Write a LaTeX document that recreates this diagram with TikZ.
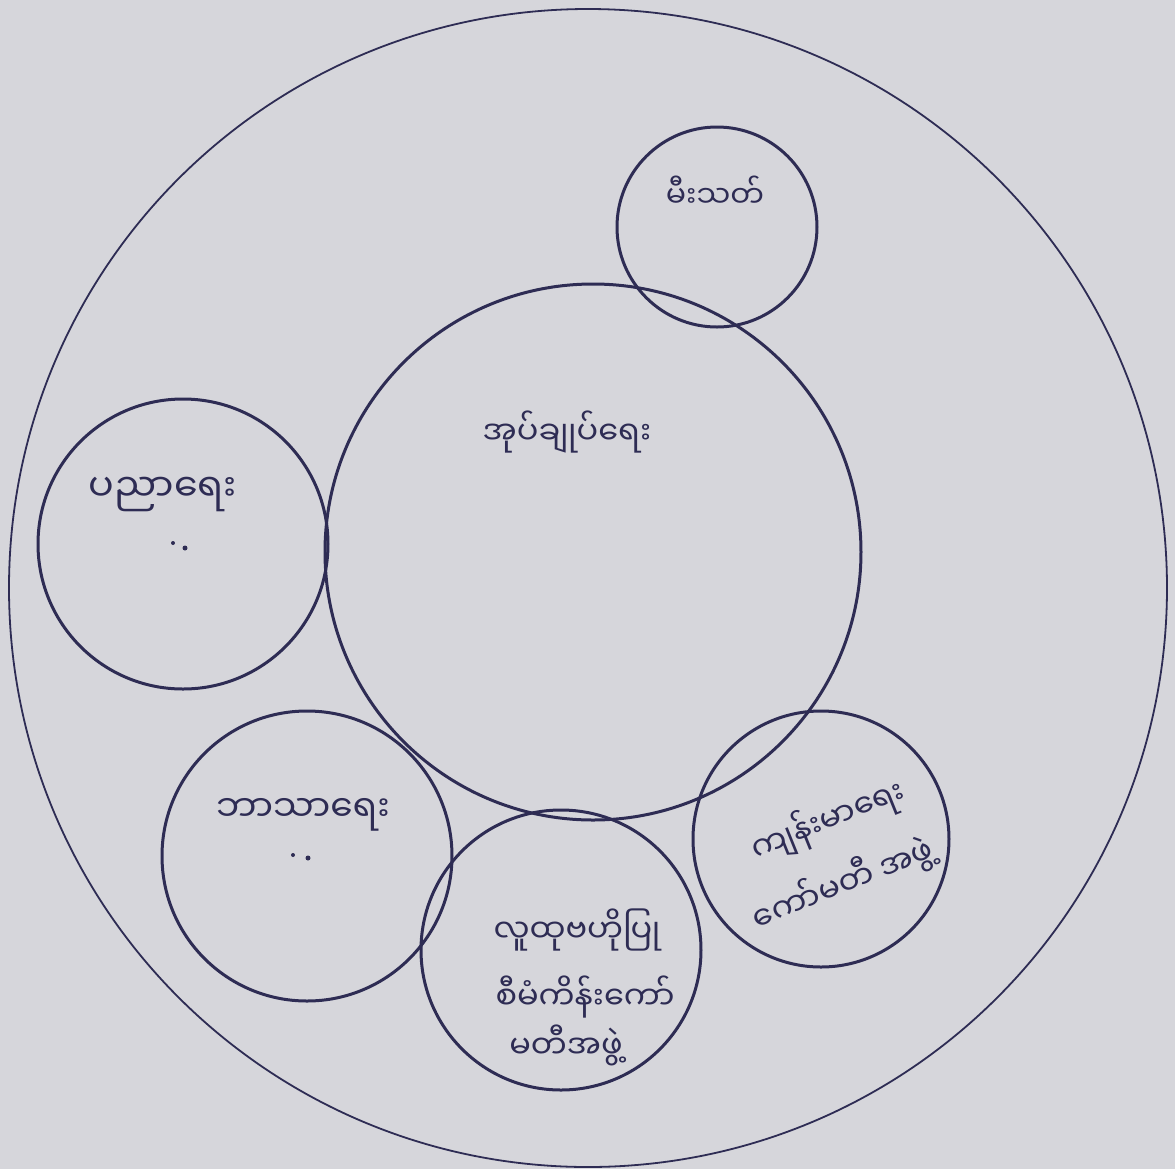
\documentclass[tikz,border=0pt]{standalone}
\usepackage{fontspec}
\newfontfamily\mmfont[Script=Myanmar]{Noto Sans Myanmar UI}
\definecolor{ink}{RGB}{46,44,84}
\definecolor{paper}{RGB}{214,214,219}
\tikzset{
  ring/.style={draw=ink, line width=0.9},
  bubble/.style={draw=ink, line width=1.5},
  word/.style={inner sep=0.75pt, text=ink, font=\mmfont\fontsize{#1}{#1}\selectfont, align=center},
  word/.default=18,
  speck/.style={fill=ink},
}
\begin{document}
\begin{tikzpicture}[x=0.5pt,y=0.5pt,yscale=-1,xscale=1]
        % paper
        \fill[paper] (0,0) rectangle (1175,1169);
        \useasboundingbox (0,0) rectangle (1175,1169);

        %Outer circle
        \draw[ring] (588,588) circle [radius=579];
        %Centre circle
        \draw[bubble] (593,552) circle [radius=268];
        %Top circle
        \draw[bubble] (717,227) circle [radius=100];
        %Left circle
        \draw[bubble] (183,544) circle [radius=145];
        %Bottom left circle
        \draw[bubble] (307,856) circle [radius=145];
        %Bottom circle
        \draw[bubble] (561,950) circle [radius=140];
        %Bottom right circle
        \draw[bubble] (821,839) circle [radius=128];

        % Text Node
        \node[word=15] (fire) at (715,192) {မီးသတ်};
        % Text Node
        \node[word=16] (admin) at (567,432) {အုပ်ချုပ်ရေး};
        % Text Node
        \node[word=19] (edu) at (163,494) {ပညာရေး};
        \fill[speck] (173,543) circle [radius=2];
        \fill[speck] (185,548) circle [radius=2.5];
        % Text Node
        \node[word=18] (faith) at (303,815) {ဘာသာရေး};
        \fill[speck] (293,855) circle [radius=2];
        \fill[speck] (308,858) circle [radius=2.5];
        % Text Node
        \node[word=16] (cdd1) at (577,930) {လူထုဗဟိုပြု};
        \node[word=16] (cdd2) at (585,997) {စီမံကိန်းကော်};
        \node[word=16] (cdd3) at (566,1045) {မတီအဖွဲ့};
        % Text Node
        \node[word=16, rotate=22] (health1) at (828,820) {ကျန်းမာရေး};
        \node[word=16, rotate=22] (health2) at (843,884) {ကော်မတီ အဖွဲ့};

\end{tikzpicture}
\end{document}
